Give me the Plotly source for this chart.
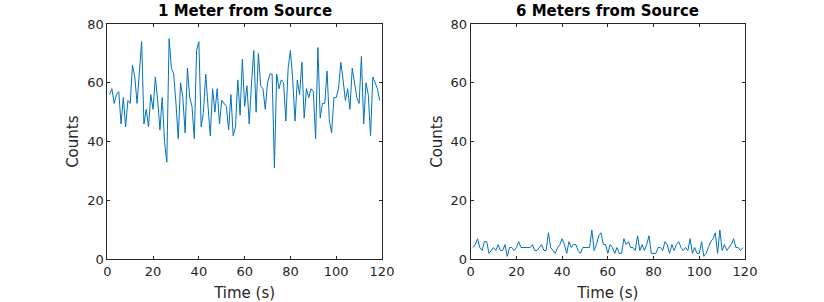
import plotly.graph_objects as go

time_s = list(range(1, 120))
counts_1m = [56, 58, 53, 56, 57, 46, 55, 45, 54, 53, 66, 62, 53, 63, 74, 46, 51, 45, 56, 51,
             62, 54, 44, 55, 40, 33, 75, 65, 63, 53, 41, 60, 55, 43, 65, 55, 52, 41, 71, 74,
             45, 50, 63, 52, 42, 58, 50, 58, 46, 54, 53, 52, 44, 56, 42, 45, 61, 49, 68, 52,
             59, 46, 60, 71, 50, 70, 59, 58, 51, 60, 63, 63, 31, 63, 58, 61, 60, 47, 65, 71,
             61, 47, 61, 56, 67, 48, 58, 55, 58, 57, 41, 72, 48, 53, 53, 64, 47, 43, 55, 55,
             58, 67, 61, 54, 58, 51, 65, 60, 55, 53, 69, 46, 60, 56, 42, 62, 60, 58, 54]
counts_6m = [4, 5, 7, 4, 3, 6, 6, 2, 3, 4, 3, 5, 3, 3, 5, 1, 4, 4, 3, 4,
             6, 4, 4, 4, 4, 4, 5, 3, 3, 4, 5, 3, 3, 9, 4, 3, 2, 4, 5, 7,
             5, 2, 6, 4, 5, 5, 3, 2, 4, 4, 4, 4, 10, 3, 5, 8, 9, 5, 5, 2,
             5, 4, 2, 4, 2, 2, 7, 5, 6, 4, 4, 3, 8, 3, 5, 3, 5, 8, 2, 2,
             2, 4, 4, 3, 6, 5, 2, 5, 3, 5, 6, 4, 3, 4, 3, 7, 2, 4, 2, 2,
             6, 1, 2, 4, 6, 7, 9, 2, 10, 3, 5, 3, 4, 5, 7, 4, 4, 3, 4]
titles = ["1 Meter from Source", "6 Meters from Source"]
x_ticks = [0, 20, 40, 60, 80, 100, 120]
y_ticks = [0, 20, 40, 60, 80]

W, H = 824, 302
line_color = "#0072BD"
ax_color = "#262626"
font = "DejaVu Sans, sans-serif"

fig = go.Figure()
fig.add_trace(go.Scatter(x=time_s, y=counts_1m, mode="lines",
                         line=dict(color=line_color, width=1), xaxis="x", yaxis="y"))
fig.add_trace(go.Scatter(x=time_s, y=counts_6m, mode="lines",
                         line=dict(color=line_color, width=1), xaxis="x2", yaxis="y2"))

x_domains = [[107.3 / W, 382.0 / W], [470.7 / W, 745.0 / W]]
y_domain = [(H - 259.3) / H, (H - 24.0) / H]

common_axis = dict(showline=True, linecolor=ax_color, linewidth=1, mirror="ticks",
                   ticks="inside", ticklen=3, tickcolor=ax_color, showgrid=False,
                   zeroline=False, automargin=False,
                   tickfont=dict(family=font, size=13, color=ax_color),
                   title_font=dict(family=font, size=15, color=ax_color))

layout = dict(width=W, height=H, margin=dict(l=0, r=0, t=0, b=0),
              paper_bgcolor="white", plot_bgcolor="white", showlegend=False)
for i, suffix in enumerate(["", "2"]):
    layout["xaxis" + suffix] = dict(common_axis, domain=x_domains[i], range=[0, 120],
                                    tickvals=x_ticks, anchor="y" + suffix,
                                    title=dict(text="Time (s)", standoff=9))
    layout["yaxis" + suffix] = dict(common_axis, domain=y_domain, range=[0, 80],
                                    tickvals=y_ticks, anchor="x" + suffix,
                                    title=dict(text="Counts", standoff=4))
fig.update_layout(**layout)

for i, t in enumerate(titles):
    fig.add_annotation(text="<b>" + t + "</b>", xref="paper", yref="paper",
                       x=sum(x_domains[i]) / 2, y=(H - 11) / H, xanchor="center",
                       yanchor="middle", showarrow=False,
                       font=dict(family=font, size=15, color="black"))

fig.write_html("out.html", config={"displayModeBar": False},
               post_script="document.body.style.margin='0';")
